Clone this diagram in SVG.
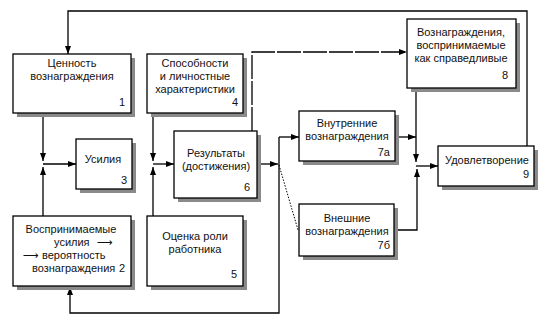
<svg xmlns="http://www.w3.org/2000/svg" width="546" height="320" viewBox="0 0 546 320">
<defs>
<marker id="ah" markerUnits="userSpaceOnUse" markerWidth="9" markerHeight="7" refX="8" refY="3" orient="auto">
<path d="M0,0 L8,3 L0,6 z" fill="#000"/>
</marker>
<style>
.sh{fill:#8a8a8a}
.bx{fill:#fff;stroke:#000;stroke-width:1.3}
text{font-family:"Liberation Sans",Arial,sans-serif;font-size:11px;fill:#111}
.c{text-anchor:middle}
.n{text-anchor:end}
.ar2{font-family:"DejaVu Sans",sans-serif;font-size:11px}
.ln{fill:none;stroke:#000;stroke-width:1.3}
.ar{marker-end:url(#ah)}
.dot{fill:none;stroke:#000;stroke-width:1;stroke-dasharray:1.5 1.5}
.dash{fill:none;stroke:#000;stroke-width:1.3;stroke-dasharray:24 2}
</style>
</defs>
<rect width="546" height="320" fill="#fff"/>
<g id="connectors">
<path class="ln ar" d="M527,146 V11 H68 V54"/>
<path class="ln ar" d="M43,113 V161"/>
<path class="ln ar" d="M43,216 V167"/>
<path class="ln ar" d="M43,164 H76"/>
<path class="ln ar" d="M153,113 V161"/>
<path class="ln ar" d="M153,216 V167"/>
<path class="ln ar" d="M153,164 H174"/>
<path class="ln ar" d="M257,164 H278"/>
<path class="ln ar" d="M279,137 H299"/>
<path class="ln ar" d="M279,137 V313 H70 V287"/>
<path class="dot" d="M279,165 L298,230"/>
<path class="dash ar" d="M252,131 V52 H407"/>
<path class="ln ar" d="M416,88 V162"/>
<path class="ln ar" d="M395,137 H416"/>
<path class="ln ar" d="M394,230 H417 V169"/>
<path class="ln ar" d="M416,166 H438"/>
</g>
<g id="node1">
<rect class="sh" x="17" y="58" width="118" height="59"/>
<rect class="bx" x="13" y="54" width="118" height="59"/>
<text class="c" x="72" y="67">Ценность</text>
<text class="c" x="72" y="80">вознаграждения</text>
<text class="n" x="125" y="106">1</text>
</g>
<g id="node4">
<rect class="sh" x="151" y="58" width="96" height="59"/>
<rect class="bx" x="147" y="54" width="96" height="59"/>
<text class="c" x="195" y="67">Способности</text>
<text class="c" x="195" y="80">и личностные</text>
<text class="c" x="195" y="93">характеристики</text>
<text class="n" x="238" y="106">4</text>
</g>
<g id="node3">
<rect class="sh" x="80" y="143" width="56" height="50"/>
<rect class="bx" x="76" y="139" width="56" height="50"/>
<text class="c" x="103" y="163">Усилия</text>
<text class="n" x="127" y="184">3</text>
</g>
<g id="node6">
<rect class="sh" x="178" y="135" width="83" height="67"/>
<rect class="bx" x="174" y="131" width="83" height="67"/>
<text class="c" x="216" y="157">Результаты</text>
<text class="c" x="216" y="170">(достижения)</text>
<text class="n" x="250" y="191">6</text>
</g>
<g id="node2">
<rect class="sh" x="17" y="220" width="118" height="70"/>
<rect class="bx" x="13" y="216" width="118" height="70"/>
<text class="c" x="71" y="233">Воспринимаемые</text>
<text x="54" y="246">усилия <tspan class="ar2" x="97">⟶</tspan></text>
<text y="259"><tspan class="ar2" x="23">⟶</tspan><tspan x="42">вероятность</tspan></text>
<text x="32" y="272">вознаграждения</text>
<text class="n" x="125" y="272">2</text>
</g>
<g id="node5">
<rect class="sh" x="151" y="220" width="96" height="70"/>
<rect class="bx" x="147" y="216" width="96" height="70"/>
<text class="c" x="195" y="240">Оценка роли</text>
<text class="c" x="195" y="253">работника</text>
<text class="n" x="237" y="278">5</text>
</g>
<g id="node7a">
<rect class="sh" x="303" y="115" width="96" height="50"/>
<rect class="bx" x="299" y="111" width="96" height="50"/>
<text class="c" x="347" y="127">Внутренние</text>
<text class="c" x="347" y="140">вознаграждения</text>
<text class="n" x="390" y="156">7а</text>
</g>
<g id="node7b">
<rect class="sh" x="303" y="208" width="95" height="52"/>
<rect class="bx" x="299" y="204" width="95" height="52"/>
<text class="c" x="347" y="222">Внешние</text>
<text class="c" x="347" y="235">вознаграждения</text>
<text class="n" x="390" y="249">7б</text>
</g>
<g id="node8">
<rect class="sh" x="411" y="23" width="109" height="69"/>
<rect class="bx" x="407" y="19" width="109" height="69"/>
<text class="c" x="461" y="36">Вознаграждения,</text>
<text class="c" x="461" y="49">воспринимаемые</text>
<text class="c" x="461" y="62">как справедливые</text>
<text class="n" x="508" y="79">8</text>
</g>
<g id="node9">
<rect class="sh" x="442" y="150" width="96" height="40"/>
<rect class="bx" x="438" y="146" width="96" height="40"/>
<text class="c" x="487" y="164">Удовлетворение</text>
<text class="n" x="529" y="178">9</text>
</g>
</svg>
